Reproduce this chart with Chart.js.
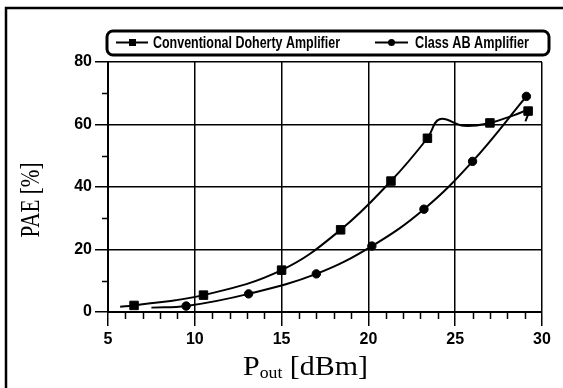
<!DOCTYPE html>
<html>
<head>
<meta charset="utf-8">
<script src="https://cdn.jsdelivr.net/npm/chart.js@4.4.0/dist/chart.umd.min.js"></script>
<style>
  html, body { margin: 0; padding: 0; background: #fff; }
  #wrap { width: 563px; height: 388px; position: relative; }
</style>
</head>
<body>
<div id="wrap"><canvas id="graph"></canvas></div>
<script>
// measured points (markers)
const dohertyPout = [6.5, 10.5, 15.0, 18.4, 21.3, 23.4, 27.0, 29.2]
const dohertyPAE = [2.1, 5.4, 13.4, 26.3, 41.9, 55.6, 60.5, 64.3]
const classABPout = [9.5, 13.1, 17.0, 20.2, 23.2, 26.0, 29.1]
const classABPAE = [1.9, 5.8, 12.2, 21.1, 32.9, 48.2, 69.0]

// fitted curves
const dohertyCurvePout = [5.7, 6.5, 10.5, 15.0, 18.4, 21.3, 23.4, 24.1, 25.5, 27.0, 28.4, 29.2, 29.05]
const dohertyCurvePAE = [1.7, 2.1, 5.4, 13.4, 26.3, 41.9, 55.6, 61.7, 59.6, 60.5, 63.0, 64.3, 61.0]
const classABCurvePout = [7.5, 9.5, 13.1, 17.0, 20.2, 23.2, 26.0, 29.1]
const classABCurvePAE = [1.4, 1.9, 5.8, 12.2, 21.1, 32.9, 48.2, 69.0]

const seriesNames = ["Conventional Doherty Amplifier", "Class AB Amplifier"]
const xTitle = ["P", "out", " [dBm]"]
const yTitle = "PAE [%]"
const xMinorTicks = [6, 7, 8, 9, 11, 12, 13, 14, 16, 17, 18, 19, 21, 22, 23, 24, 26, 27, 28, 29]
const yMinorTicks = [10, 30, 50, 70]

function toPoints(xs, ys) {
    return xs.map((x, i) => ({ x: x, y: ys[i] }))
}

function fitText(ctx, text, x, y, width) {
    const w = ctx.measureText(text).width
    ctx.save()
    ctx.translate(x, y)
    ctx.scale(width / w, 1)
    ctx.fillText(text, 0, 0)
    ctx.restore()
}

const paperPlugin = {
    id: "paper",
    beforeDraw(chart) {
        const ctx = chart.ctx
        ctx.save()
        ctx.fillStyle = "#fff"
        ctx.fillRect(0, 0, chart.width, chart.height)
        // outer frame
        ctx.strokeStyle = "#000"
        ctx.lineWidth = 2.5
        ctx.beginPath()
        ctx.moveTo(6, chart.height)
        ctx.lineTo(6, 8)
        ctx.lineTo(chart.width, 8)
        ctx.stroke()
        ctx.restore()
    },
    afterDraw(chart) {
        const ctx = chart.ctx
        const xs = chart.scales.x
        const ys = chart.scales.y
        const area = chart.chartArea
        ctx.save()
        ctx.strokeStyle = "#000"
        ctx.fillStyle = "#000"
        ctx.lineWidth = 1.5

        // minor ticks
        ctx.beginPath()
        xMinorTicks.forEach((v) => {
            const px = Math.round(xs.getPixelForValue(v)) + 0.5
            ctx.moveTo(px, area.bottom)
            ctx.lineTo(px, area.bottom + 7)
        })
        yMinorTicks.forEach((v) => {
            const py = Math.round(ys.getPixelForValue(v)) + 0.5
            ctx.moveTo(area.left - 6, py)
            ctx.lineTo(area.left, py)
        })
        ctx.stroke()

        // x title with subscript
        ctx.textBaseline = "alphabetic"
        ctx.textAlign = "left"
        const bigFont = '27px "Liberation Serif"'
        const smallFont = '16px "Liberation Serif"'
        ctx.font = bigFont
        const wP = ctx.measureText(xTitle[0]).width
        const wRest = ctx.measureText(xTitle[2]).width
        ctx.font = smallFont
        const wSub = ctx.measureText(xTitle[1]).width
        const s = 125 / (wP + wSub + wRest)
        ctx.save()
        ctx.translate(243, 375)
        ctx.scale(s, 1)
        ctx.font = bigFont
        ctx.fillText(xTitle[0], 0, 0)
        ctx.font = smallFont
        ctx.fillText(xTitle[1], wP, 3)
        ctx.font = bigFont
        ctx.fillText(xTitle[2], wP + wSub, 0)
        ctx.restore()

        // y title
        ctx.save()
        ctx.font = '22px "Liberation Serif"'
        const wy = ctx.measureText(yTitle).width
        ctx.translate(39, 200)
        ctx.rotate(-Math.PI / 2)
        ctx.scale(75 / wy, 1.2)
        ctx.textAlign = "center"
        ctx.fillText(yTitle, 0, 0)
        ctx.restore()

        // legend box
        ctx.lineWidth = 3
        ctx.beginPath()
        ctx.roundRect(107, 31, 442, 24, 6)
        ctx.stroke()

        const ly = 42.5
        ctx.lineWidth = 2
        ctx.beginPath()
        ctx.moveTo(116, ly)
        ctx.lineTo(148, ly)
        ctx.moveTo(375, ly)
        ctx.lineTo(408, ly)
        ctx.stroke()
        ctx.fillRect(129, ly - 3.5, 7, 7)
        ctx.beginPath()
        ctx.arc(391.5, ly, 3.5, 0, Math.PI * 2)
        ctx.fill()

        ctx.font = 'bold 16.5px "Liberation Sans"'
        ctx.textBaseline = "alphabetic"
        fitText(ctx, seriesNames[0], 153, 47.5, 187)
        fitText(ctx, seriesNames[1], 415, 47.5, 114)
        ctx.restore()
    },
}

const tickFont = { family: "Liberation Sans", size: 16, weight: "bold" }

const chartID = document.getElementById("graph").getContext("2d")
let graphic = new Chart(chartID, {
    type: "line",
    data: {
        datasets: [
            {
                label: seriesNames[0] + " curve",
                data: toPoints(dohertyCurvePout, dohertyCurvePAE),
                borderColor: "#000",
                borderWidth: 2,
                pointRadius: 0,
                tension: 0.4,
            },
            {
                label: seriesNames[1] + " curve",
                data: toPoints(classABCurvePout, classABCurvePAE),
                borderColor: "#000",
                borderWidth: 2,
                pointRadius: 0,
                tension: 0.4,
            },
            {
                label: seriesNames[0],
                data: toPoints(dohertyPout, dohertyPAE),
                showLine: false,
                pointStyle: "rect",
                pointRadius: 6,
                backgroundColor: "#000",
                borderColor: "#000",
            },
            {
                label: seriesNames[1],
                data: toPoints(classABPout, classABPAE),
                showLine: false,
                pointStyle: "circle",
                pointRadius: 4.2,
                backgroundColor: "#000",
                borderColor: "#000",
            },
        ],
    },
    options: {
        responsive: true,
        maintainAspectRatio: false,
        animation: false,
        layout: { padding: { left: 0, top: 62, right: 21, bottom: 0 } },
        plugins: {
            legend: { display: false },
            tooltip: { enabled: false },
        },
        scales: {
            x: {
                type: "linear",
                min: 5,
                max: 30,
                ticks: { stepSize: 5, color: "#000", font: tickFont, padding: 4, maxRotation: 0 },
                grid: { color: "#000", lineWidth: 1.5, tickColor: "#000", tickLength: 14, tickWidth: 1.5 },
                border: { color: "#000", width: 2 },
                afterFit: (scale) => { scale.height = 76 },
            },
            y: {
                min: 0,
                max: 80,
                ticks: { stepSize: 20, color: "#000", font: tickFont, padding: 3 },
                grid: { color: "#000", lineWidth: 1.5, tickColor: "#000", tickLength: 13, tickWidth: 1.5 },
                border: { color: "#000", width: 2 },
                afterFit: (scale) => { scale.width = 108 },
            },
        },
    },
    plugins: [paperPlugin],
})
</script>
</body>
</html>
